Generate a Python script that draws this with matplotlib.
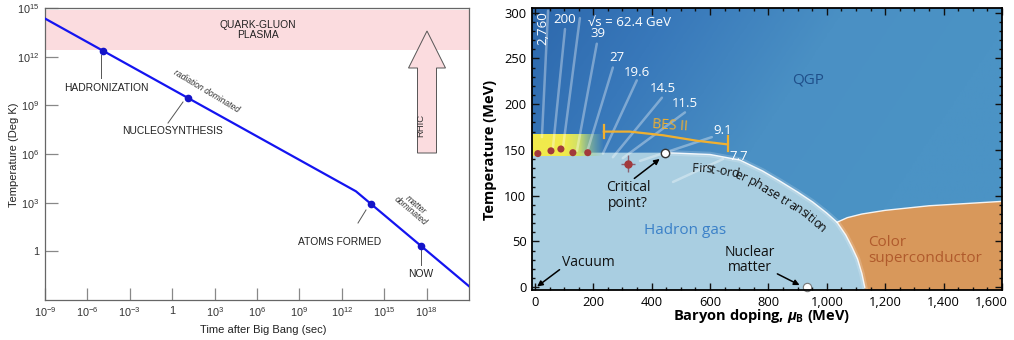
import numpy as np
import matplotlib
matplotlib.use('Agg')
import matplotlib.pyplot as plt
from matplotlib.patches import Polygon
from matplotlib.colors import LinearSegmentedColormap, to_rgb
from matplotlib.font_manager import FontProperties, findfont
from matplotlib.ft2font import FT2Font
from matplotlib.transforms import ScaledTranslation
from matplotlib.ticker import FixedLocator, NullLocator, MultipleLocator
try:
    from matplotlib.ft2font import LoadFlags
    NOHINT = LoadFlags.NO_HINTING
except Exception:
    from matplotlib.ft2font import LOAD_NO_HINTING as NOHINT

plt.rcParams['mathtext.fontset'] = 'custom'
plt.rcParams['mathtext.rm'] = 'Liberation Sans'
plt.rcParams['mathtext.it'] = 'Open Sans:italic:bold'
plt.rcParams['mathtext.bf'] = 'Open Sans:bold'

# ---------------- data: left panel (cosmic history) ----------------
time_exp_ticks = [-9, -6, -3, 0, 3, 6, 9, 12, 15, 18]
temp_exp_ticks = [0, 3, 6, 9, 12, 15]
cooling_log_time = [-9, 13.0, 21]
cooling_log_temp = [14.35, 3.7, -2.15]
event_names = ['HADRONIZATION', 'NUCLEOSYNTHESIS', 'ATOMS FORMED', 'NOW']
event_log_time = [-4.9, 1.1, 14.05, 17.6]
qgp_band_temp = [2.5e12, 7.6e14]

# ---------------- data: right panel (QCD phase diagram) ----------------
mu_ticks = [0, 200, 400, 600, 800, 1000, 1200, 1400, 1600]
mu_tick_labels = ['0', '200', '400', '600', '800', '1,000', '1,200', '1,400', '1,600']
hadron_mu = [-10, 200, 445, 600, 702, 780, 839, 900, 952, 1000, 1035, 1065, 1086, 1105, 1120, 1130]
hadron_T = [147, 147, 147, 145, 139, 127, 116, 104, 93, 81, 71, 57, 44, 31, 15, 0]
color_sc_mu = [1035, 1070, 1120, 1200, 1350, 1610]
color_sc_T = [71, 76, 80, 84, 89, 94]
freeze_mu = [10, 55, 89, 130, 181]
freeze_T = [146, 149, 151, 147, 147]
lattice_mu, lattice_T, lattice_dmu, lattice_dT = 319, 135, 25, 9
critical_mu, critical_T = 445, 147
nuclear_mu, nuclear_T = 932, 0
bes_mu = [236, 325, 439, 555, 661]
bes_T = [170, 170, 166, 160, 156]
energy_labels = ['2,760', '200', '√s = 62.4 GeV', '39', '27', '19.6', '14.5', '11.5', '9.1', '7.7']
energy_label_mu = [28, 103, 325, 216, 281, 349, 439, 514, 644, 699]
energy_label_T = [283, 292, 289, 277, 251, 235, 217, 201, 171, 143]
energy_top_mu = [45, 103, 154, 212, 267, 349, 435, 514, 606, 644]
energy_top_T = [302, 282, 294, 266, 240, 226, 207, 191, 164, 140]
energy_bot_mu = [24, 62, 96, 144, 178, 233, 267, 301, 360, 473]
energy_bot_T = [164, 153, 152, 149, 147, 146, 142, 141, 138, 115]

W, H = 1014, 340
fig = plt.figure(figsize=(W / 100, H / 100), dpi=100)

# ======================= LEFT PANEL =======================
L0, R0, T0, B0 = 45, 469, 8, 300
ax1 = fig.add_axes([L0 / W, 1 - B0 / H, (R0 - L0) / W, (B0 - T0) / H])
ax1.set_xscale('log'); ax1.set_yscale('log')
ax1.set_xlim(1e-9, 1e21); ax1.set_ylim(1e-3, 1e15)
for s in ax1.spines.values():
    s.set_color('#666'); s.set_linewidth(0.9)

def pow_label(e):
    return '1' if e == 0 else r'$\mathregular{10^{%d}}$' % e

ax1.xaxis.set_major_locator(FixedLocator([10.0 ** e for e in time_exp_ticks]))
ax1.yaxis.set_major_locator(FixedLocator([10.0 ** e for e in temp_exp_ticks]))
ax1.xaxis.set_minor_locator(NullLocator()); ax1.yaxis.set_minor_locator(NullLocator())
ax1.set_xticklabels([pow_label(e) for e in time_exp_ticks])
ax1.set_yticklabels([pow_label(e) for e in temp_exp_ticks])
ax1.tick_params(direction='in', length=9, width=0.9, color='#888', labelsize=7.8,
                labelcolor='#333', pad=4)
for lab in ax1.get_xticklabels() + ax1.get_yticklabels():
    lab.set_family('Liberation Sans')

ax1.axhspan(qgp_band_temp[0], qgp_band_temp[1], color='#fbdcdf', zorder=0, lw=0)
tt = 10.0 ** np.array(cooling_log_time)
TT = 10.0 ** np.array(cooling_log_temp)
ax1.plot(tt, TT, color='#1414f0', lw=1.6, zorder=3)
ev_T = 10.0 ** np.interp(event_log_time, cooling_log_time, cooling_log_temp)
ax1.plot(10.0 ** np.array(event_log_time), ev_T, 'o', color='#1414c8', ms=4.5, zorder=4)

def fx1(px):
    return (px - L0) / (R0 - L0)

def fy1(py):
    return (B0 - py) / (B0 - T0)

lab_kw = dict(transform=ax1.transAxes, fontsize=7.4, color='#222', family='Liberation Sans',
              ha='center', va='center')
ax1.text(fx1(106), fy1(88), event_names[0], **lab_kw)
ax1.text(fx1(172), fy1(131), event_names[1], **lab_kw)
ax1.text(fx1(340), fy1(242), event_names[2], **lab_kw)
ax1.text(fx1(421), fy1(274), event_names[3], **lab_kw)
leaders = [((101, 55), (101, 78)), ((183, 102), (168, 123)), ((366, 210), (358, 223)),
           ((421, 250), (421, 265))]
for (a, b) in leaders:
    ax1.plot([fx1(a[0]), fx1(b[0])], [fy1(a[1]), fy1(b[1])], color='#555', lw=0.7,
             transform=ax1.transAxes)
ax1.text(fx1(206), fy1(91), 'radiation dominated', transform=ax1.transAxes, fontsize=6.2,
         style='italic', rotation=-31, ha='center', va='center', color='#333',
         family='Liberation Sans')
ax1.text(fx1(413), fy1(208), 'matter\ndominated', transform=ax1.transAxes, fontsize=6.2,
         style='italic', rotation=-40, ha='center', va='center', color='#333',
         family='Liberation Sans', linespacing=0.9)
ax1.text(fx1(258), fy1(30), 'QUARK-GLUON\nPLASMA', transform=ax1.transAxes, fontsize=7.4,
         ha='center', va='center', color='#222', family='Liberation Sans', linespacing=1.0)
# RHIC arrow
cx = 427
arrow_px = [(cx - 9.5, 153), (cx - 9.5, 68), (cx - 18.5, 68), (cx, 31), (cx + 18.5, 68),
            (cx + 9.5, 68), (cx + 9.5, 153)]
ax1.add_patch(Polygon([(fx1(x), fy1(y)) for x, y in arrow_px], closed=True,
                      transform=ax1.transAxes, facecolor='#fbdcdf', edgecolor='#555', lw=0.7,
                      zorder=2))
ax1.text(fx1(421), fy1(125), 'RHIC', transform=ax1.transAxes, rotation=90, fontsize=6.8,
         ha='center', va='center', color='#333', family='Liberation Sans')
fig.text(14 / W, 1 - 155 / H, 'Temperature (Deg K)', rotation=90, ha='center', va='center',
         fontsize=8, color='#222', family='Liberation Sans')
fig.text(263 / W, 1 - 330 / H, 'Time after Big Bang (sec)', ha='center', va='center',
         fontsize=8, color='#222', family='Liberation Sans')

# ======================= RIGHT PANEL =======================
ax2 = fig.add_axes([532 / W, 1 - 290 / H, 470 / W, 282 / H])
YMIN, YMAX = -3, 305
ax2.set_xlim(-10, 1600); ax2.set_ylim(YMIN, YMAX)

gx = np.linspace(-10, 1600, 300); gy = np.linspace(YMIN, YMAX, 150)
GX, GY = np.meshgrid(gx, gy)
v = np.clip(0.25 + GX / 1600 * 0.9 - (GY - 150) / 300 * 0.35, 0, 1)
cmap = LinearSegmentedColormap.from_list('qgp', ['#2b65aa', '#3878ba', '#4a90c4', '#4b93c5'])
ax2.imshow(v, extent=[-10, 1600, YMIN, YMAX], origin='lower', cmap=cmap, aspect='auto',
           zorder=0, vmin=0, vmax=1, interpolation='bilinear')

had_poly = list(zip(hadron_mu, hadron_T)) + [(1130, YMIN - 5), (-10, YMIN - 5)]
ax2.add_patch(Polygon(had_poly, closed=True, facecolor='#a9cee1', edgecolor='none', zorder=1))
hm = np.array(hadron_mu); hT = np.array(hadron_T)
sel = hm >= critical_mu
ax2.plot(hm[sel], hT[sel], color='white', lw=4, alpha=0.18, zorder=1.5)
ax2.plot(hm[sel], hT[sel], color='white', lw=1.0, alpha=0.9, zorder=2)

seg = hm >= color_sc_mu[0]
orange_poly = list(zip(color_sc_mu, color_sc_T)) + [(1610, YMIN - 5), (1130, YMIN - 5)] + \
    list(zip(hm[seg][::-1], hT[seg][::-1]))
ax2.add_patch(Polygon(orange_poly, closed=True, facecolor='#d8985b', edgecolor='none', zorder=1))
ax2.plot(color_sc_mu, color_sc_T, color='white', lw=1.0, alpha=0.9, zorder=2)

# yellow freeze-out band
nx = 120
band = np.zeros((10, nx, 4))
xs = np.linspace(0, 1, nx)
ycol = np.array(to_rgb('#f1ea4c')); gcol = np.array(to_rgb('#a6d48a'))
mix = np.clip((xs - 0.45) / 0.45, 0, 1)[:, None]
band[:, :, :3] = (ycol * (1 - mix) + gcol * mix)[None, :, :]
band[:, :, 3] = np.clip((1 - xs) / 0.35, 0, 1)[None, :]
ax2.imshow(band, extent=[-10, 235, 143, 166], origin='lower', aspect='auto', zorder=2,
           interpolation='bilinear')

# energy scan lines
for i in range(len(energy_labels)):
    ax2.plot([energy_bot_mu[i], energy_top_mu[i]], [energy_bot_T[i], energy_top_T[i]],
             color='white', lw=1.8, alpha=0.35, zorder=3, solid_capstyle='round')
for i, lab in enumerate(energy_labels):
    rot = 90 if i == 0 else 0
    ax2.text(energy_label_mu[i], energy_label_T[i], lab, color='white', fontsize=9.5,
             ha='center', va='center', rotation=rot, family=['Open Sans', 'DejaVu Sans'],
             zorder=6)

ax2.scatter(freeze_mu, freeze_T, s=26, color='#a23a3c', zorder=5, edgecolor='none')
ax2.errorbar([lattice_mu], [lattice_T], xerr=[lattice_dmu], yerr=[lattice_dT], fmt='o',
             color='#a23a3c', ms=5, ecolor='#8a6070', elinewidth=1, capsize=0, zorder=5)
ax2.plot(bes_mu, bes_T, color='#f0b030', lw=1.6, zorder=5)
ax2.plot([bes_mu[0]] * 2, [163, 177], color='#f0b030', lw=1.6, zorder=5)
ax2.plot([bes_mu[-1]] * 2, [149, 165], color='#f0b030', lw=1.6, zorder=5)
ax2.text(462, 176, 'BES II', color='#f0b030', fontsize=10, ha='center', va='center',
         rotation=-4, family='Open Sans', zorder=6)
ax2.plot([critical_mu], [critical_T], 'o', ms=6, mfc='white', mec='#333', mew=1.0, zorder=7)
ax2.plot([nuclear_mu], [nuclear_T], 'o', ms=6, mfc='white', mec='#777', mew=0.8, zorder=7,
         clip_on=False)

txt_kw = dict(family='Open Sans', ha='center', va='center', zorder=6)
ax2.text(935, 226, 'QGP', color='#1f4f8a', fontsize=11, **txt_kw)
ax2.text(514, 62, 'Hadron gas', color='#3a80c8', fontsize=11, **txt_kw)
ax2.text(1141, 49, 'Color', color='#b05a2c', fontsize=11, family='Open Sans', ha='left',
         va='center', zorder=6)
ax2.text(1141, 31, 'superconductor', color='#b05a2c', fontsize=11, family='Open Sans',
         ha='left', va='center', zorder=6)
ax2.text(319, 100, 'Critical\npoint?', color='#111', fontsize=10, linespacing=1.05, **txt_kw)
ax2.text(182, 27, 'Vacuum', color='#111', fontsize=10, **txt_kw)
ax2.text(737, 30, 'Nuclear\nmatter', color='#111', fontsize=10, linespacing=1.05, **txt_kw)
arr = dict(arrowstyle='-|>', color='black', lw=1.1, mutation_scale=8)
ax2.annotate('', xy=(435, 142), xytext=(333, 117), arrowprops=arr, zorder=7)
ax2.annotate('', xy=(0, -1), xytext=(92, 21), arrowprops=arr, zorder=7)
ax2.annotate('', xy=(915, 1), xytext=(822, 16), arrowprops=arr, zorder=7)

# curved text along the first-order line
def curved_text(ax, text, xs, ys, s_start, offset, fs):
    pts = ax.transData.transform(np.column_stack([xs, ys]))
    d = np.r_[0, np.cumsum(np.hypot(np.diff(pts[:, 0]), np.diff(pts[:, 1])))]
    ss = np.linspace(0, d[-1], 3000)
    px = np.interp(ss, d, pts[:, 0]); py = np.interp(ss, d, pts[:, 1])
    k = 60
    ker = np.ones(k) / k
    pxs = np.convolve(np.pad(px, k, mode='edge'), ker, mode='same')[k:-k]
    pys = np.convolve(np.pad(py, k, mode='edge'), ker, mode='same')[k:-k]
    tx = np.gradient(pxs); ty = np.gradient(pys)
    nrm = np.hypot(tx, ty); tx /= nrm; ty /= nrm
    fp = FontProperties(family='Open Sans', size=fs)
    font = FT2Font(findfont(fp))
    font.set_size(fs, fig.dpi)
    pos = s_start
    inv = ax.transData.inverted()
    for ch in text:
        g = font.load_char(ord(ch), flags=NOHINT)
        a = g.linearHoriAdvance / 65536.0
        c = pos + a / 2
        j = min(np.searchsorted(ss, c), len(ss) - 1)
        x0 = pxs[j] + ty[j] * offset
        y0 = pys[j] - tx[j] * offset
        ang = np.degrees(np.arctan2(ty[j], tx[j]))
        dx, dy = inv.transform((x0, y0))
        ax.text(dx, dy, ch, fontsize=fs, family='Open Sans', rotation=ang,
                rotation_mode='anchor', ha='center', va='baseline', color='#111', zorder=6)
        pos += a

curved_text(ax2, 'First-order phase transition', hadron_mu[2:], hadron_T[2:], 28, 18, 9)

ax2.xaxis.set_major_locator(FixedLocator(mu_ticks)); ax2.xaxis.set_minor_locator(MultipleLocator(50))
ax2.set_xticklabels(mu_tick_labels)
ax2.yaxis.set_major_locator(MultipleLocator(50)); ax2.yaxis.set_minor_locator(MultipleLocator(10))
ax2.tick_params(which='both', direction='in', top=True, right=True, width=1.0, color='#111')
ax2.tick_params(which='major', length=5, labelsize=9.3, pad=4)
ax2.tick_params(which='minor', length=2.5)
for lab in ax2.get_xticklabels() + ax2.get_yticklabels():
    lab.set_family('Open Sans')
last = ax2.get_xticklabels()[-1]
last.set_horizontalalignment('right')
last.set_transform(last.get_transform() + ScaledTranslation(0.06, 0, fig.dpi_scale_trans))
for s in ax2.spines.values():
    s.set_linewidth(1.3); s.set_zorder(8)
fig.text(490 / W, 1 - 150 / H, 'Temperature (MeV)', rotation=90, ha='center', va='center',
         fontsize=10.5, fontweight='bold', family='Open Sans')
fig.text(762 / W, 1 - 316 / H, r'Baryon doping, $\mu_{\mathbf{B}}$ (MeV)', ha='center',
         va='center', fontsize=10.5, fontweight='bold', family='Open Sans')

fig.savefig('out.png', dpi=100)
